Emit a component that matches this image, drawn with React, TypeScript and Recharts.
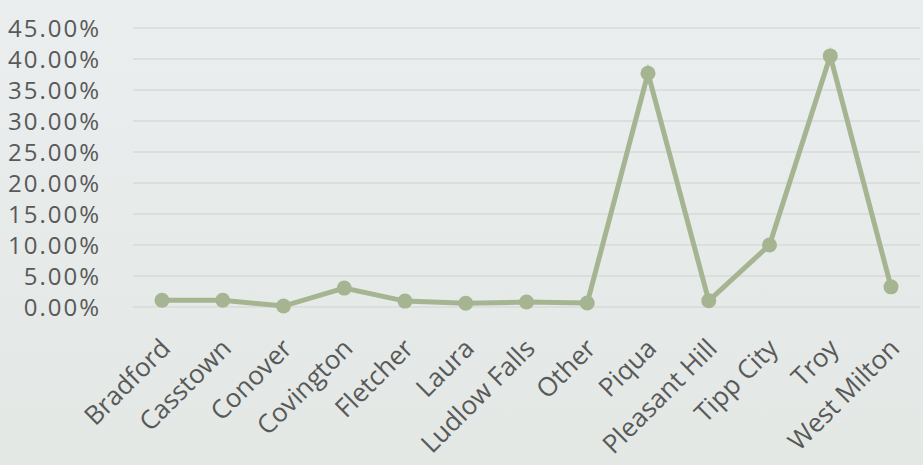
import { LineChart, Line, XAxis, YAxis, CartesianGrid } from "recharts";

const towns = [
  "Bradford",
  "Casstown",
  "Conover",
  "Covington",
  "Fletcher",
  "Laura",
  "Ludlow Falls",
  "Other",
  "Piqua",
  "Pleasant Hill",
  "Tipp City",
  "Troy",
  "West Milton",
];

const shares = [1.1, 1.1, 0.15, 3.05, 0.95, 0.6, 0.8, 0.65, 37.7, 1.0, 10.0, 40.5, 3.25];

const yTicks = [0, 5, 10, 15, 20, 25, 30, 35, 40, 45];

const data = towns.map((town, i) => ({ town, share: shares[i] }));

const LINE = "#A5B592";
const TEXT = "#595959";
const FONT = "'Open Sans', sans-serif";

function TownTick(props: any) {
  const { x, y, payload } = props;
  return (
    <g transform={`translate(${x + 10},${y + 35})`}>
      <text
        transform="rotate(-45)"
        textAnchor="end"
        fill={TEXT}
        fontSize={26}
        fontFamily={FONT}
      >
        {payload.value}
      </text>
    </g>
  );
}

export default function App() {
  return (
    <div
      style={{
        position: "absolute",
        left: 0,
        top: 0,
        width: 923,
        height: 465,
        background: "linear-gradient(#EAEEEF, #E3E8E5)",
      }}
    >
      <LineChart
        width={923}
        height={465}
        data={data}
        margin={{ top: 28, right: 3, left: 0, bottom: 0 }}
      >
        <CartesianGrid vertical={false} stroke="#D9D9D9" strokeWidth={1.5} />
        <XAxis
          dataKey="town"
          height={158}
          axisLine={false}
          tickLine={false}
          interval={0}
          padding={{ left: 29, right: 29 }}
          tick={<TownTick />}
        />
        <YAxis
          width={133}
          domain={[0, 45]}
          ticks={yTicks}
          interval={0}
          axisLine={false}
          tickLine={false}
          tickSize={0}
          tickMargin={32}
          tickFormatter={(v: number) => `${v.toFixed(2)}%`}
          tick={{ fill: TEXT, fontSize: 24, fontFamily: FONT, letterSpacing: 2 }}
        />
        <Line
          dataKey="share"
          stroke={LINE}
          strokeWidth={5}
          dot={{ r: 7.5, fill: LINE, stroke: "none" }}
          isAnimationActive={false}
        />
      </LineChart>
    </div>
  );
}
